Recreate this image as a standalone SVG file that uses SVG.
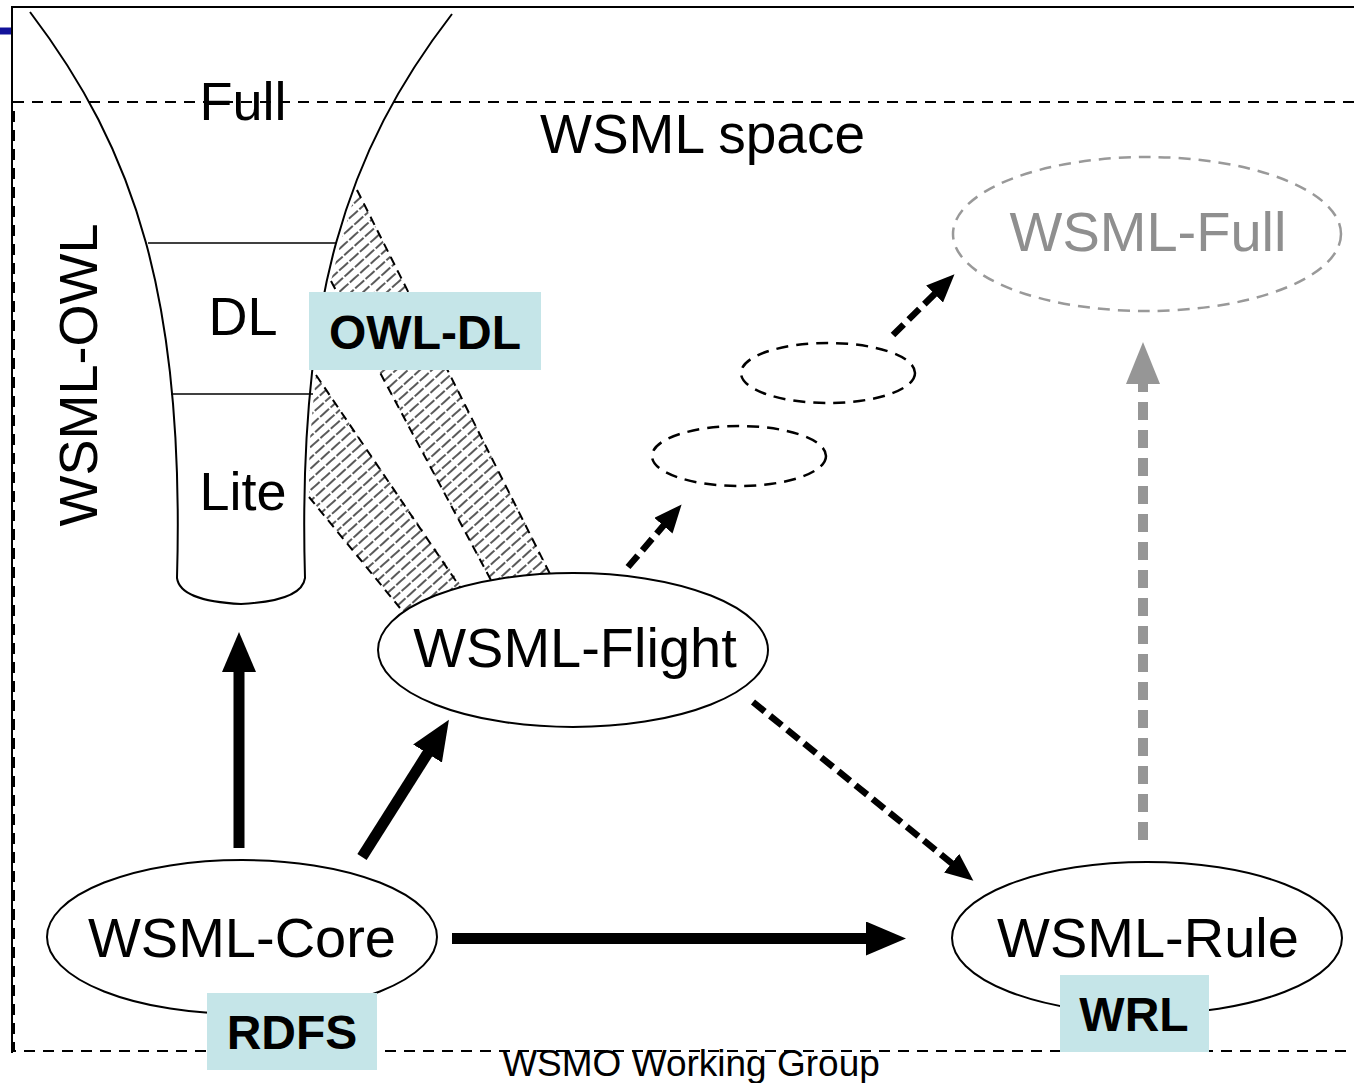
<svg xmlns="http://www.w3.org/2000/svg" width="1354" height="1083" viewBox="0 0 1354 1083">
  <style>
    text { font-family: "Liberation Sans", Arial, sans-serif; fill: #000; }
    .lbl { font-size: 56px; text-anchor: middle; }
    .sub { font-size: 54px; text-anchor: middle; }
    .tag { font-size: 48px; font-weight: bold; text-anchor: middle; }
    .box { fill: #c5e5e8; }
    .node { fill: #fff; stroke: #000; stroke-width: 2; }
    .ghost { fill: none; stroke: #000; stroke-width: 2.5; stroke-dasharray: 12 8; }
    .solid { stroke: #000; stroke-width: 11; fill: none; }
    .dash { stroke: #000; stroke-width: 6.5; stroke-dasharray: 15 7; fill: none; }
    .gray { stroke: #969696; stroke-width: 10; stroke-dasharray: 18 10; fill: none; }
    .frame { stroke: #000; stroke-width: 2; stroke-dasharray: 11 8; fill: none; }
    .edge { stroke: #000; stroke-width: 2; stroke-dasharray: 9 6; fill: none; }
  </style>
  <defs>
    <pattern id="hatch" width="14" height="8" patternUnits="userSpaceOnUse" patternTransform="rotate(-42)">
      <line x1="1" y1="4" x2="13" y2="4" stroke="#000" stroke-width="1.3"/>
    </pattern>
    <marker id="head" viewBox="0 0 40 34" refX="2" refY="17" markerWidth="40" markerHeight="34" markerUnits="userSpaceOnUse" orient="auto">
      <path d="M0,0 L40,17 L0,34 Z" fill="#000"/>
    </marker>
    <marker id="dhead" viewBox="0 0 28 24" refX="2" refY="12" markerWidth="28" markerHeight="24" markerUnits="userSpaceOnUse" orient="auto">
      <path d="M0,0 L28,12 L0,24 Z" fill="#000"/>
    </marker>
    <marker id="ghead" viewBox="0 0 42 34" refX="2" refY="17" markerWidth="42" markerHeight="34" markerUnits="userSpaceOnUse" orient="auto">
      <path d="M0,0 L42,17 L0,34 Z" fill="#969696"/>
    </marker>
  </defs>

  <rect width="1354" height="1083" fill="#fff"/>

  <!-- hatched cones from the funnel down to WSML-Flight -->
  <g id="hatching">
    <path fill="url(#hatch)" d="M357,190 L564,600 L501,600 L331,281 L335,265 L340,245 L346,225 L352,205 Z"/>
    <path fill="url(#hatch)" d="M316,375 L478,610 L419,630 L309,497 L309,470 L310,440 L313,405 Z"/>
    <line class="edge" x1="357" y1="190" x2="552" y2="578"/>
    <line class="edge" x1="331" y1="281" x2="492" y2="582"/>
    <line class="edge" x1="316" y1="375" x2="462" y2="590"/>
    <line class="edge" x1="309" y1="497" x2="400" y2="608"/>
  </g>

  <!-- page frame -->
  <g id="frame">
    <line x1="0" y1="31" x2="11" y2="31" stroke="#12129a" stroke-width="7"/>
    <line x1="11" y1="7" x2="1354" y2="7" stroke="#000" stroke-width="2"/>
    <line x1="12" y1="7" x2="12" y2="1053" stroke="#000" stroke-width="2"/>
    <path class="frame" d="M1354,102 H14 V1051 H1354"/>
    <text x="540" y="153" style="font-size:55px">WSML space</text>
  </g>

  <!-- WSML-OWL funnel -->
  <g id="wsml-owl">
    <path fill="none" stroke="#000" stroke-width="2" d="M30,12 C135,150 185,300 177,578 Q180,601 241,604 Q302,601 305,578 C297,300 347,150 452,14"/>
    <line x1="148" y1="243" x2="336" y2="243" stroke="#000" stroke-width="1.5"/>
    <line x1="171" y1="394" x2="313" y2="394" stroke="#000" stroke-width="1.5"/>
    <text class="sub" x="243" y="120">Full</text>
    <text class="sub" x="243" y="335">DL</text>
    <text class="sub" x="243" y="510">Lite</text>
    <text class="sub" transform="translate(97,375) rotate(-90)">WSML-OWL</text>
  </g>

  <!-- connectors -->
  <g id="connectors">
    <line class="solid" x1="239" y1="848" x2="239" y2="670" marker-end="url(#head)"/>
    <line class="solid" x1="362" y1="857" x2="428.6" y2="751.8" marker-end="url(#head)"/>
    <line class="solid" x1="452" y1="938.5" x2="868" y2="938.5" marker-end="url(#head)"/>
    <line class="dash" x1="753" y1="702" x2="953.2" y2="864.4" marker-end="url(#dhead)"/>
    <line class="dash" x1="628" y1="567" x2="664.7" y2="524.2" marker-end="url(#dhead)"/>
    <line class="dash" x1="893" y1="335" x2="936" y2="292.6" marker-end="url(#dhead)"/>
    <line class="gray" x1="1143" y1="840" x2="1143" y2="382" marker-end="url(#ghead)"/>
  </g>

  <g id="wsml-flight">
    <ellipse class="node" cx="573" cy="650" rx="195" ry="77"/>
    <text class="lbl" x="575" y="667">WSML-Flight</text>
  </g>

  <g id="step-1">
    <ellipse class="ghost" cx="739" cy="456" rx="87" ry="30"/>
  </g>
  <g id="step-2">
    <ellipse class="ghost" cx="828" cy="373" rx="87" ry="30"/>
  </g>

  <g id="wsml-full">
    <ellipse cx="1147" cy="234" rx="194" ry="77" fill="none" stroke="#999" stroke-width="2.5" stroke-dasharray="12 8"/>
    <text class="lbl" x="1148" y="251" style="fill:#8f8f8f">WSML-Full</text>
  </g>

  <g id="wsml-core">
    <ellipse class="node" cx="242" cy="937" rx="195" ry="77"/>
    <text class="lbl" x="242" y="957">WSML-Core</text>
  </g>

  <g id="wsml-rule">
    <ellipse class="node" cx="1147" cy="938" rx="195" ry="76"/>
    <text class="lbl" x="1148" y="957">WSML-Rule</text>
  </g>

  <!-- standard labels -->
  <g id="owl-dl">
    <rect class="box" x="309" y="292" width="232" height="78"/>
    <text class="tag" x="425" y="349">OWL-DL</text>
  </g>
  <g id="rdfs">
    <rect class="box" x="207" y="993" width="170" height="77"/>
    <text class="tag" x="292" y="1049">RDFS</text>
  </g>
  <g id="wrl">
    <rect class="box" x="1060" y="975" width="149" height="77"/>
    <text class="tag" x="1134" y="1031">WRL</text>
  </g>

  <text x="691" y="1076" style="font-size:37px;text-anchor:middle">WSMO Working Group</text>
</svg>
